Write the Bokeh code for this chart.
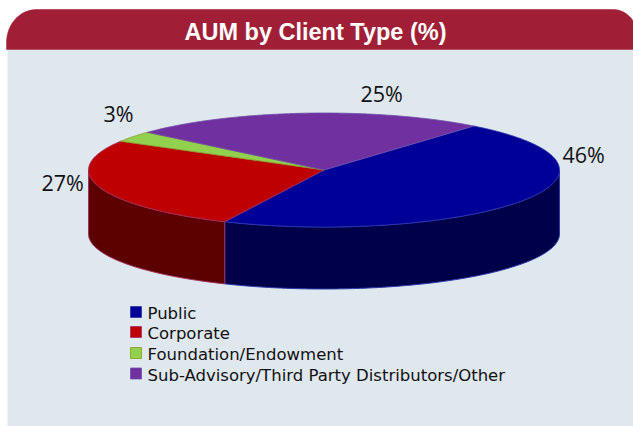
import numpy as np
from bokeh.plotting import figure
from bokeh.models import Range1d
from bokeh.core.properties import value
from bokeh.embed import file_html
from bokeh.resources import INLINE

title = "AUM by Client Type (%)"
categories = ["Public", "Corporate", "Foundation/Endowment", "Sub-Advisory/Third Party Distributors/Other"]
shares = [46.0, 26.5, 3.1, 24.5]
labels = ["46%", "27%", "3%", "25%"]

top_colors = ["#000099", "#bf0000", "#92d14f", "#7030a0"]
side_colors = ["#00004a", "#5c0000", "#4f7a20", "#3c1a58"]
edge_colors = ["#2a3aa8", "#a03060", "#8a9a20", "#7050a8"]
label_x = [562, 41, 103, 360]
label_y = [154, 182, 113, 92.5]
legend_y = [311.5, 331.5, 352.5, 373]

W, H = 633, 426
CX, CY, RX, RY = 323.5, 169.5, 235.5, 57.0
WALL_DROP, WALL_RY = 64.0, 55.0
START = 50.5

p = figure(width=W, height=H, output_backend="svg", toolbar_location=None,
           x_range=Range1d(0, W), y_range=Range1d(H, 0), min_border=0,
           x_axis_type=None, y_axis_type=None, outline_line_color=None,
           background_fill_color="white", border_fill_color="white")
p.grid.visible = False
p.styles = {"position": "absolute", "left": "0px", "top": "0px"}

# panel
p.quad(left=[7], right=[W], top=[49], bottom=[H], fill_color="#dfe7ef", line_color=None)
t = np.radians(np.linspace(0, 90, 30))
HB = 42.0
hdr_x = [6, 6] + list(36 - 30 * np.cos(t)) + list(613 + 26 * np.sin(t)) + [639, 639]
hdr_y = [49, HB] + list(HB - 33 * np.sin(t)) + list(HB - 33 * np.cos(t)) + [HB, 49]
p.patch(hdr_x, hdr_y, fill_color="#a01f36", line_color="#a01f36", line_width=0.5)
p.text([315], [31], text=[title], text_font=value("Liberation Sans"), text_font_style="bold",
       text_font_size="23.5px", text_color="white", text_align="center", text_baseline="middle")

# pie angles from the values
total = sum(shares)
angs = [START]
for s in shares:
    angs.append(angs[-1] - s / total * 360.0)

def arc(a0, a1, n=120):
    a = np.radians(np.linspace(a0, a1, n))
    return CX + RX * np.cos(a), CY - RY * np.sin(a), CY + WALL_DROP - WALL_RY * np.sin(a)

# side wall: only the front half (angles between 0 and -180)
for i in range(4):
    a0, a1 = angs[i], angs[i + 1]
    lo0, lo1 = min(a0, 0.0), max(a1, -180.0)
    if lo0 <= lo1:
        continue
    ax, ay, by = arc(lo0, lo1)
    p.patch(list(ax) + list(ax[::-1]), list(ay) + list(by[::-1]), fill_color=side_colors[i],
            line_color=edge_colors[i], line_width=1)

# top faces
for i in range(4):
    ax, ay, _ = arc(angs[i], angs[i + 1])
    p.patch([CX] + list(ax), [CY] + list(ay), fill_color=top_colors[i],
            line_color=edge_colors[i], line_width=0.8)

# data labels
p.text(label_x, label_y, text=labels, text_font=value("Open Sans"), text_font_size="21.5px",
       text_color="#111111", text_align="left", text_baseline="middle")

# legend
p.rect([135.5] * 4, legend_y, width=11, height=11, fill_color=top_colors,
       line_color=edge_colors, line_width=0.8)
p.text([147] * 4, [y + 1.5 for y in legend_y], text=categories, text_font=value("DejaVu Sans"),
       text_font_size="16.5px", text_color="#111111", text_align="left", text_baseline="middle")

open("out.html", "w").write(file_html(p, INLINE))
